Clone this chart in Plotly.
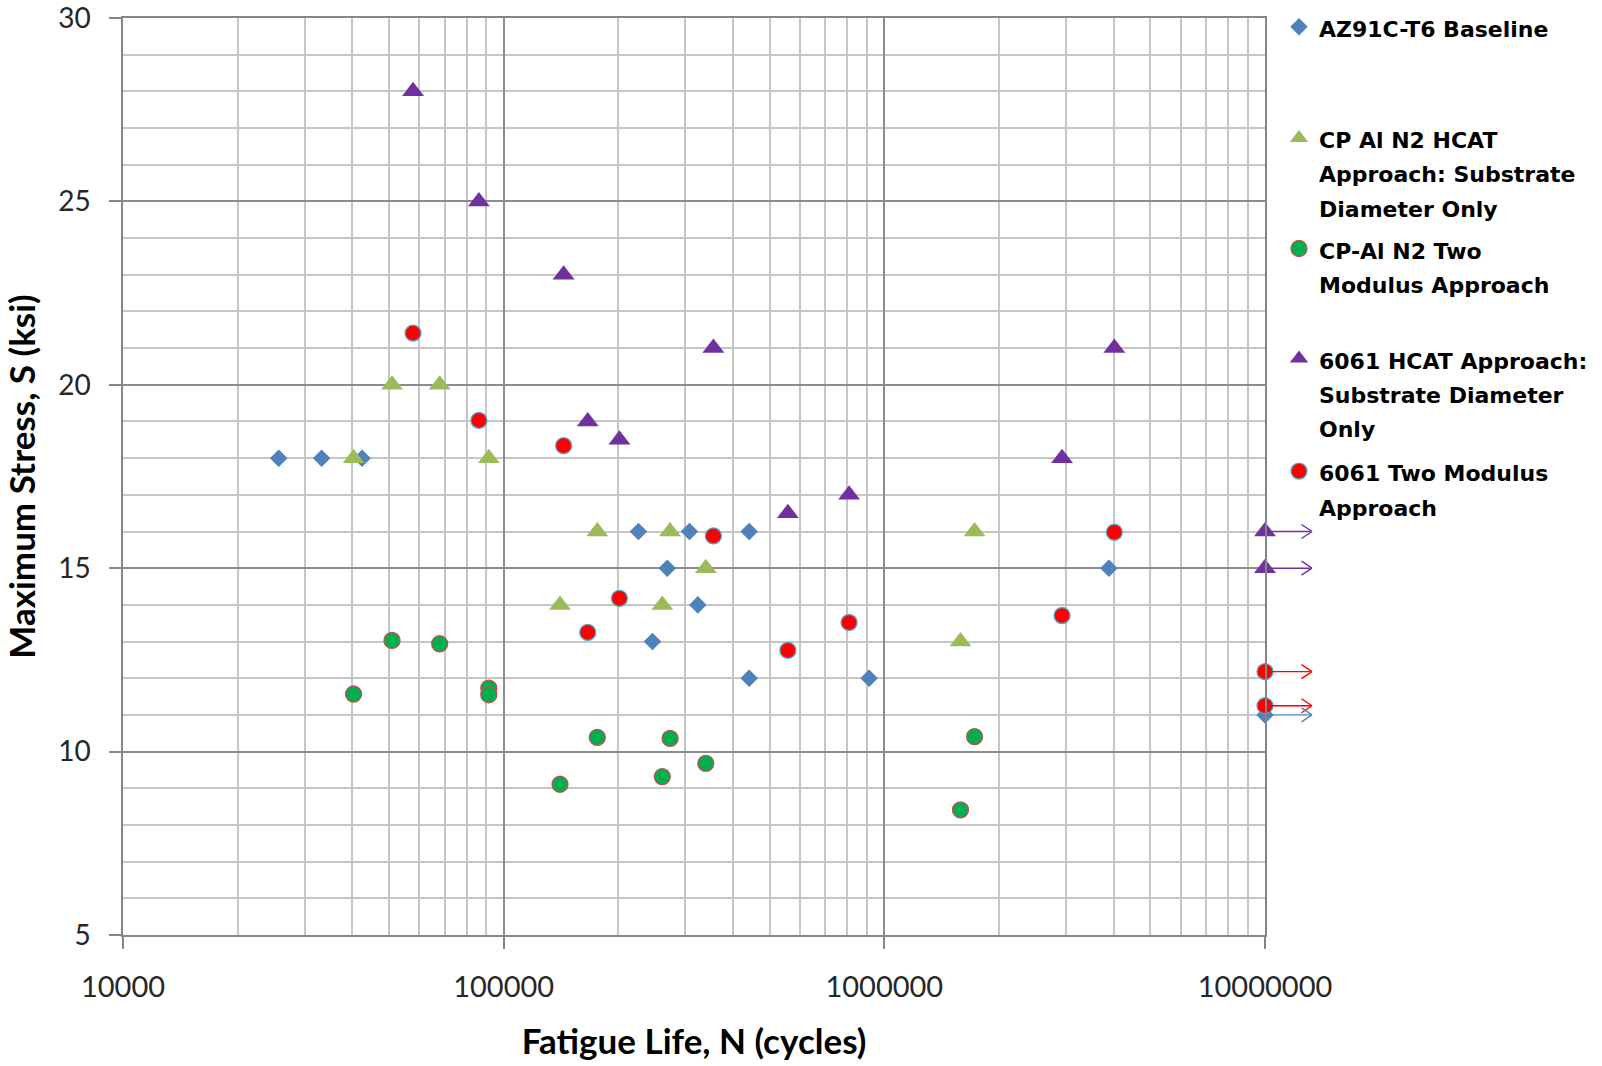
import math
import plotly.graph_objects as go

# ---------------- data ----------------
az_N = [25650, 33240, 42460, 226000, 307600, 441600, 269000, 323600, 246000,
        441600, 912000, 3890000, 10000000]
az_S = [18, 18, 18, 16, 16, 16, 15, 14, 13, 12, 12, 15, 11]

cp_hcat_N = [40340, 50900, 67900, 91400, 140600, 176200, 261000, 273600,
             339600, 1585000, 1726000]
cp_hcat_S = [18, 20, 20, 18, 14, 16, 14, 16, 15, 13, 16]

cp_two_N = [40340, 50900, 67900, 91400, 91400, 140600, 176200, 261000,
            273600, 339600, 1585000, 1726000]
cp_two_S = [11.57, 13.03, 12.94, 11.73, 11.55, 9.11, 10.39, 9.32, 10.36,
            9.68, 8.41, 10.41]

al_hcat_N = [57800, 86100, 143700, 166300, 201400, 355600, 558000, 808000,
             2930000, 4020000, 10000000, 10000000]
al_hcat_S = [28, 25, 23, 19, 18.5, 21, 16.5, 17, 18, 21, 16, 15]

al_two_N = [57800, 86100, 143700, 166300, 201400, 355600, 558000, 808000,
            2930000, 4020000, 10000000, 10000000]
al_two_S = [21.41, 19.03, 18.34, 13.25, 14.18, 15.88, 12.76, 13.52, 13.71,
            15.98, 12.18, 11.25]

runout_N = 10000000

x_tickvals = [10000, 100000, 1000000, 10000000]
x_ticktext = ["10000", "100000", "1000000", "10000000"]
y_tickvals = [5, 10, 15, 20, 25, 30]

series_names = [
    ["AZ91C-T6 Baseline"],
    ["CP Al N2 HCAT", "Approach: Substrate", "Diameter Only"],
    ["CP-Al N2 Two", "Modulus Approach"],
    ["6061 HCAT Approach:", "Substrate Diameter", "Only"],
    ["6061 Two Modulus", "Approach"],
]

# ---------------- styles ----------------
C_BLUE = "#4f81bd"
C_LGREEN = "#9bbb59"
C_GREEN = "#00b050"
C_PURPLE = "#7030a0"
C_RED = "#ff0000"
LEG_TEXT_PX = 22
LEG_LINE_FONT = 26.3
legend_top_px = [3.2, 114.3, 224.9, 335, 447.5]


def leg_name(lines):
    return "<br>".join(
        "<span style='font-size:%dpx'>%s</span>" % (LEG_TEXT_PX, s) for s in lines)


fig = go.Figure()

specs = [
    (az_N, az_S, dict(symbol="diamond", size=13.5, color=C_BLUE, line=dict(width=0))),
    (cp_hcat_N, cp_hcat_S, dict(symbol="triangle-up", size=19, color=C_LGREEN, line=dict(width=0))),
    (cp_two_N, cp_two_S, dict(symbol="circle", size=16, color=C_GREEN, line=dict(width=1.3, color="#c0504d"))),
    (al_hcat_N, al_hcat_S, dict(symbol="triangle-up", size=19, color=C_PURPLE, line=dict(width=0))),
    (al_two_N, al_two_S, dict(symbol="circle", size=16, color=C_RED, line=dict(width=1.3, color="#4bacc6"))),
]
for i, (xs, ys, mk) in enumerate(specs):
    fig.add_trace(go.Scatter(
        x=xs, y=ys, mode="markers", marker=mk, name=leg_name(series_names[i]),
        cliponaxis=False, legend="legend" if i == 0 else "legend%d" % (i + 1)))

# ---------------- run-out arrows ----------------
annotations = []
arrow_len = 47
head_back, head_half = 12, 8
for xs, ys, col in [(al_hcat_N, al_hcat_S, C_PURPLE), (al_two_N, al_two_S, C_RED), (az_N, az_S, C_BLUE)]:
    for n, s in zip(xs, ys):
        if n != runout_N:
            continue
        xl = math.log10(n)
        common = dict(x=xl, y=s, xref="x", yref="y", axref="pixel", ayref="pixel",
                      text="", showarrow=True, arrowhead=0, arrowwidth=1.4, arrowcolor=col)
        annotations.append(dict(common, ax=arrow_len, ay=0, standoff=6))
        annotations.append(dict(common, xshift=arrow_len, ax=-head_back, ay=-head_half))
        annotations.append(dict(common, xshift=arrow_len, ax=-head_back, ay=head_half))

grid_minor = "#c6c6c6"
grid_major = "#8c8c8c"
x_tick_font = dict(family="Lato", size=29, color="#262626")
y_tick_font = dict(family="Lato", size=28, color="#262626")
title_font = dict(family="Lato", size=35, color="#000000", weight="bold")

layout = dict(
    width=1602, height=1066,
    paper_bgcolor="white", plot_bgcolor="white",
    margin=dict(l=123, r=337, t=18, b=131, autoexpand=False),
    showlegend=True,
    annotations=annotations,
    xaxis=dict(
        type="log", range=[4, 7], tickvals=x_tickvals, ticktext=x_ticktext,
        showgrid=True, gridcolor=grid_major, gridwidth=1.5,
        minor=dict(dtick="D1", showgrid=True, gridcolor=grid_minor, gridwidth=1.5, ticks=""),
        showline=True, linecolor="#868686", linewidth=1.5, mirror=True,
        ticks="outside", ticklen=12, tickcolor="#868686", tickwidth=1.5,
        ticklabelstandoff=13, tickfont=x_tick_font, ticklabeloverflow="allow",
        title=dict(text="Fatigue Life, N (cycles)", font=title_font, standoff=28),
        zeroline=False,
    ),
    yaxis=dict(
        range=[5, 30], tickvals=y_tickvals,
        showgrid=True, gridcolor=grid_major, gridwidth=1.5,
        minor=dict(dtick=1, showgrid=True, gridcolor=grid_minor, gridwidth=1.5, ticks=""),
        showline=True, linecolor="#868686", linewidth=1.5, mirror=True,
        ticks="outside", ticklen=12, tickcolor="#868686", tickwidth=1.5,
        ticklabelstandoff=13, tickfont=y_tick_font, ticklabeloverflow="allow",
        title=dict(text="Maximum Stress, S (ksi)", font=title_font, standoff=12),
        zeroline=False,
    ),
)

for i, top in enumerate(legend_top_px):
    key = "legend" if i == 0 else "legend%d" % (i + 1)
    layout[key] = dict(
        xref="container", yref="container",
        x=1279 / 1602, xanchor="left",
        y=1 - top / 1066, yanchor="top",
        bgcolor="rgba(0,0,0,0)", borderwidth=0,
        valign="top", itemsizing="trace",
        font=dict(family="DejaVu Sans", size=LEG_LINE_FONT, color="#000000", weight="bold"),
    )

fig.update_layout(**layout)

fig.write_html("out.html", config={"displayModeBar": False},
               post_script="document.body.style.margin='0';document.body.style.overflow='hidden';")
